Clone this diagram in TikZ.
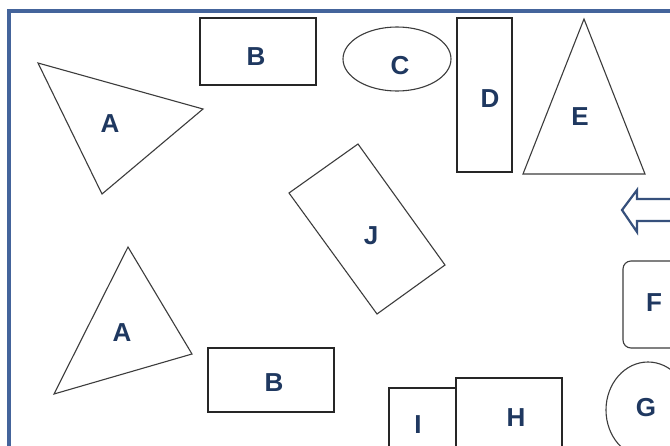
\documentclass[tikz,border=0pt]{standalone}
\usepackage{fontspec}
\newfontfamily\lblfont{Liberation Sans}
\definecolor{frame-blue}{RGB}{68,100,155}
\definecolor{label-blue}{RGB}{31,56,96}
\definecolor{line-gray}{RGB}{60,60,60}
\usetikzlibrary{positioning, calc}

\begin{document}
\begin{tikzpicture}[
    x=1pt, y=-1pt,
    shp/.style={draw=line-gray, line width=1.1pt, fill=white},
    boxshp/.style={shp, draw=black!85, line width=1.4pt},
    lbl/.style={font=\lblfont\fontsize{26}{26}\selectfont\bfseries, text=label-blue, inner sep=0pt},
    hollowarrow/.style={draw=frame-blue!80!black, line width=2.2pt, fill=white, line join=miter}
]
    \useasboundingbox (0,0) rectangle (670,445);
    \fill[white] (0,0) rectangle (670,445);
    \clip (0,0) rectangle (670,445);

    % frame
    \draw[frame-blue, line width=3.4pt] (700,11) -- (9,11) -- (9,480);

    % shapes, top row
    \draw[shp] (38,63) -- (203,109) -- (102,194) -- cycle;
    \draw[boxshp] (200,18) rectangle (316,85);
    \draw[shp] (397,59) ellipse [x radius=54, y radius=32];
    \draw[boxshp] (457,18) rectangle (512,172);
    \draw[shp] (584,19) -- (645,174) -- (523,174) -- cycle;

    % middle
    \draw[shp] (358,144) -- (445,265) -- (377,314) -- (289,193) -- cycle;
    \draw[hollowarrow] (622,210) -- (637,190) -- (637,199) -- (680,199)
        -- (680,221) -- (637,221) -- (637,232) -- cycle;
    \draw[shp, rounded corners=8pt] (700,261) -- (623,261) -- (623,348) -- (700,348);

    % bottom row
    \draw[shp] (128,247) -- (192,354) -- (54,394) -- cycle;
    \draw[boxshp] (208,348) rectangle (334,412);
    \draw[boxshp] (389,388) rectangle (456,460);
    \draw[boxshp] (456,378) rectangle (562,460);
    \draw[shp] (648,410) ellipse [x radius=42, y radius=48];

    % labels
    \node[lbl] (a1) at (110,124) {A};
    \node[lbl] (b1) at (256,57) {B};
    \node[lbl] (c) at (400,66) {C};
    \node[lbl] (d) at (490,99) {D};
    \node[lbl] (e) at (580,117) {E};
    \node[lbl] (j) at (371,236) {J};
    \node[lbl] (f) at (654,303) {F};
    \node[lbl] (a2) at (122,333) {A};
    \node[lbl] (b2) at (274,383) {B};
    \node[lbl] (i) at (418,425) {I};
    \node[lbl] (h) at (516,418) {H};
    \node[lbl] (g) at (646,408) {G};
\end{tikzpicture}
\end{document}
